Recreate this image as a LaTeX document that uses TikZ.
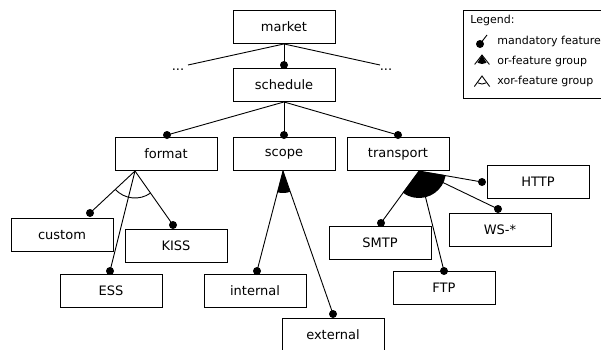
\documentclass[tikz,border=0pt]{standalone}
\usepackage{fontspec}
\setmainfont{DejaVu Sans}
\usetikzlibrary{calc}
\begin{document}
\begin{tikzpicture}[x=1pt,y=-1pt, line width=0.9pt,
  fbox/.style={draw, minimum width=102pt, minimum height=33pt, inner sep=0pt, font=\fontsize{13}{15}\selectfont},
  mdot/.style={circle, fill, inner sep=0pt, minimum size=8pt},
  lgtext/.style={anchor=west, inner sep=0pt, font=\fontsize{11}{13}\selectfont},
  dots/.style={inner sep=0pt, font=\fontsize{13}{15}\selectfont}]
\useasboundingbox (0,0) rectangle (601,349);
\clip (0,0) rectangle (601,349);
\fill[white] (0,0) rectangle (601,349);

% feature boxes
\node[fbox] (market) at (284,27) {market};
\node[fbox] (schedule) at (284,85) {schedule};
\node[fbox] (format) at (166,154) {format};
\node[fbox] (scope) at (284,154) {scope};
\node[fbox] (transport) at (398,154) {transport};
\node[fbox] (custom) at (62,235) {custom};
\node[fbox] (kiss) at (176,246) {KISS};
\node[fbox] (ess) at (111,291) {ESS};
\node[fbox] (internal) at (255,291) {internal};
\node[fbox] (external) at (333,335) {external};
\node[fbox] (smtp) at (380,243) {SMTP};
\node[fbox] (ftp) at (444,288) {FTP};
\node[fbox] (ws) at (500,230) {WS-*};
\node[fbox] (http) at (538,182) {HTTP};

% ellipses
\node[dots] (ell1) at (178,70) {...};
\node[dots] (ell2) at (386,70) {...};
\coordinate (e1) at (188,65);
\coordinate (e2) at (380,65);

% dots
\node[mdot] (dschedule) at (284,65) {};
\node[mdot] (dformat) at (167,135) {};
\node[mdot] (dscope) at (284,135) {};
\node[mdot] (dtransport) at (398,135) {};
\node[mdot] (dcustom) at (90,213) {};
\node[mdot] (dkiss) at (173,225) {};
\node[mdot] (dess) at (110,271) {};
\node[mdot] (dinternal) at (257,271) {};
\node[mdot] (dexternal) at (333,314) {};
\node[mdot] (dsmtp) at (381,223) {};
\node[mdot] (dftp) at (444,271) {};
\node[mdot] (dws) at (498,209) {};
\node[mdot] (dhttp) at (482,182) {};

% apexes
\coordinate (fa) at (135,171);
\coordinate (sa) at (283,171);
\coordinate (ta) at (419,171);

% group markers
\fill (sa) -- ++(71:22) arc[start angle=71, end angle=105, radius=22] -- cycle;
\fill (ta) -- ++(9:27) arc[start angle=9, end angle=127, radius=27] -- cycle;
\draw ($(fa)+(55:27)$) arc[start angle=55, end angle=137, radius=27];

% connectors
\draw (market.south) -- (dschedule.center);
\draw (market.south) -- (e1);
\draw (market.south) -- (e2);
\draw (schedule.south) -- (dformat.center);
\draw (schedule.south) -- (dscope.center);
\draw (schedule.south) -- (dtransport.center);
\draw (fa) -- (dcustom.center);
\draw (fa) -- (dkiss.center);
\draw (fa) -- (dess.center);
\draw (sa) -- (dinternal.center);
\draw (sa) -- (dexternal.center);
\draw (ta) -- (dsmtp.center);
\draw (ta) -- (dftp.center);
\draw (ta) -- (dws.center);
\draw (ta) -- (dhttp.center);

% legend
\draw (463,10) rectangle (640,98);
\node[lgtext] (lg) at (470,20) {Legend:};
\node[lgtext] (lg1) at (497,41) {mandatory feature};
\node[lgtext] (lg2) at (497,61) {or-feature group};
\node[lgtext] (lg3) at (497,81) {xor-feature group};
\node[mdot] (lgdot) at (480,44) {};
\coordinate (lgdotend) at (487,35);
\draw (lgdot.center) -- (lgdotend);
\coordinate (lgor) at (482,55);
\fill (lgor) -- ++(60:9) arc[start angle=60, end angle=120, radius=9] -- cycle;
\draw ($(lgor)+(128:12)$) -- (lgor) -- ($(lgor)+(52:12)$);
\coordinate (lgxor) at (482,76);
\draw ($(lgxor)+(126:13)$) -- (lgxor) -- ($(lgxor)+(54:13)$);
\draw ($(lgxor)+(60:8)$) arc[start angle=60, end angle=120, radius=8];
\end{tikzpicture}
\end{document}
